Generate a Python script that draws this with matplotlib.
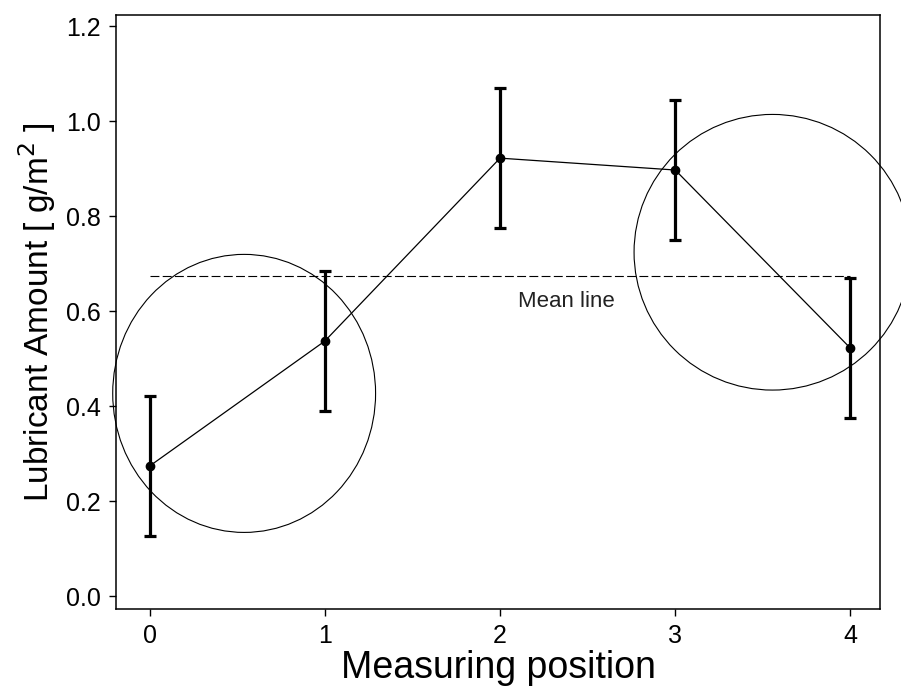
import matplotlib
matplotlib.use("Agg")
import matplotlib.pyplot as plt
from matplotlib.patches import Ellipse

# values
positions = [0, 1, 2, 3, 4]
lubricant = [0.274, 0.537, 0.922, 0.897, 0.522]
errors = [0.148, 0.148, 0.148, 0.147, 0.147]
mean_value = 0.675
xticks = [0, 1, 2, 3, 4]
yticks = [0.0, 0.2, 0.4, 0.6, 0.8, 1.0, 1.2]

# highlighted regions (centre x, centre y, width, height) in data units
circles = [(0.54, 0.427, 1.50, 0.585), (3.555, 0.724, 1.58, 0.58)]

plt.rcParams['font.family'] = ['Liberation Sans', 'DejaVu Sans']

fig = plt.figure(figsize=(9.01, 6.86), dpi=100)
ax = fig.add_axes([0.129, 0.112, 0.848, 0.866])

ax.errorbar(positions, lubricant, yerr=errors, color='black', lw=0.9,
            marker='o', markersize=6, elinewidth=2.3, capsize=4,
            capthick=2.3, zorder=3)

ax.hlines(mean_value, positions[0], positions[-1], colors='black',
          linestyles=(0, (8, 3)), lw=0.8)
ax.text(2.10, 0.608, 'Mean line', fontsize=16, color='#222222')

for cx, cy, w, h in circles:
    ax.add_patch(Ellipse((cx, cy), w, h, fill=False, edgecolor='black',
                         lw=0.8, clip_on=False))

ax.set_xlim(-0.19, 4.17)
ax.set_ylim(-0.027, 1.223)
ax.set_xticks(xticks)
ax.set_yticks(yticks)
ax.set_yticklabels(['%.1f' % v for v in yticks])
ax.tick_params(direction='out', length=5, width=1, labelsize=18, pad=6)

for sp in ax.spines.values():
    sp.set_linewidth(1.1)

ax.set_xlabel('Measuring position', fontsize=27, labelpad=1)
ax.set_ylabel('Lubricant Amount [ g/m$^2$ ]', fontsize=24, labelpad=6)

fig.savefig('out.png', dpi=100)
